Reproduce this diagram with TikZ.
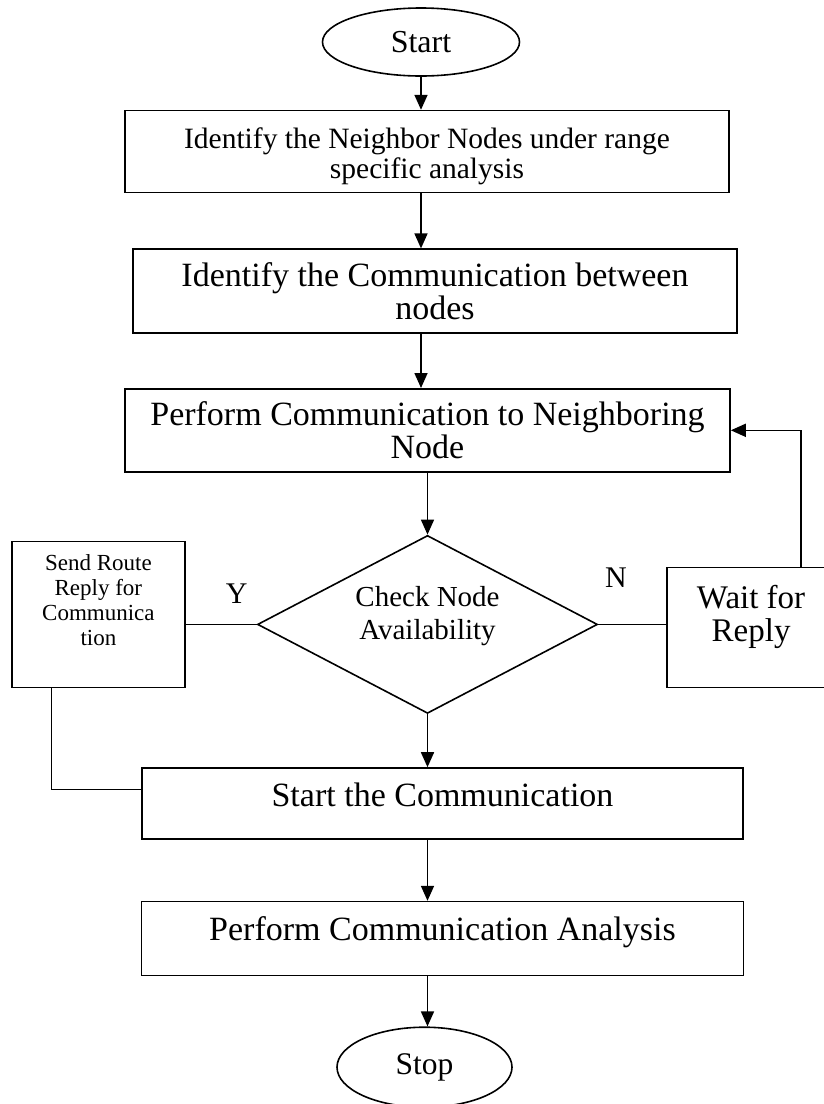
\documentclass[tikz,border=0pt]{standalone}
\usepackage{fontspec}
\setmainfont{Liberation Serif}
\usetikzlibrary{arrows.meta, positioning, shapes.geometric}

\begin{document}
\begin{tikzpicture}[
    x=1pt, y=-1pt,
    punkt/.style = {rectangle, draw, align=center, inner sep=0pt},
    term/.style = {ellipse, draw, inner sep=0pt},
    valg/.style = {diamond, draw, align=center, inner sep=0pt, shape aspect=1.9},
    pil/.style = {black, -{Triangle[length=15pt, width=13pt]}},
    line width=1.6pt,
    font=\fontsize{34}{33}\selectfont
    ]
    \useasboundingbox (0,0) rectangle (823,1104);
    %nodes
    \node[term, minimum width=197pt, minimum height=68pt,
          font=\fontsize{32}{32}\selectfont] (start) at (421,42) {Start};
    \node[punkt, minimum width=604pt, minimum height=82pt, text height=60pt,
          font=\fontsize{29.5}{30}\selectfont] (range)
        [below=33pt of start, xshift=6pt]
        {Identify the Neighbor Nodes under range\\specific analysis};
    \node[punkt, minimum width=604pt, minimum height=84pt] (between)
        [below=55pt of range, xshift=8pt]
        {Identify the Communication between\\nodes};
    \node[punkt, minimum width=605pt, minimum height=83pt] (neighbor)
        [below=54pt of between, xshift=-7.5pt]
        {Perform Communication to Neighboring\\Node};
    \node[valg, minimum width=340pt, minimum height=178pt, text depth=23pt,
          font=\fontsize{29}{33}\selectfont] (check)
        [below=62pt of neighbor]
        {Check Node\\Availability};
    \node[punkt, minimum width=173pt, minimum height=146pt, text depth=28pt,
          font=\fontsize{23}{25}\selectfont] (send)
        [left=71pt of check, yshift=10pt]
        {Send Route\\Reply for\\Communica\\tion};
    \node[punkt, minimum width=168pt, minimum height=120pt, text depth=28pt,
          font=\fontsize{33}{33}\selectfont] (wait)
        [right=68pt of check, yshift=-3pt]
        {Wait for\\Reply};
    \node[punkt, minimum width=601pt, minimum height=71pt, text depth=17pt] (startcom)
        [below=53pt of check, xshift=15pt]
        {Start the Communication};
    \node[punkt, minimum width=602pt, minimum height=74pt, text depth=21pt] (analysis)
        [below=61pt of startcom]
        {Perform Communication Analysis};
    \node[term, minimum width=175pt, minimum height=80pt,
          font=\fontsize{31.5}{32}\selectfont] (stop)
        [below=50pt of analysis, xshift=-18pt] {Stop};

    % edges
    \draw[pil] (start.south) -- (start.south |- range.north);
    \draw[pil] (start.south |- range.south) -- (start.south |- between.north);
    \draw[pil] (start.south |- between.south) -- (start.south |- neighbor.north);
    \draw[pil] (check.north |- neighbor.south) -- (check.north);
    \draw[pil] (check.south) -- (check.south |- startcom.north);
    \draw[pil] (check.south |- startcom.south) -- (check.south |- analysis.north);
    \draw[pil] (check.south |- analysis.south) -- (check.south |- stop.north);

    \draw (send.east |- check.west) -- node[pos=0.72, yshift=31pt,
        font=\fontsize{30}{30}\selectfont] {Y} (check.west);
    \draw (check.east) -- node[pos=0.26, yshift=47pt,
        font=\fontsize{30}{30}\selectfont] {N} (check.east -| wait.west);
    \draw[pil] ([xshift=50pt]wait.north) |- (neighbor.east);
    \draw ([xshift=-47pt]send.south) |- ([yshift=14pt]startcom.west);
\end{tikzpicture}
\end{document}
